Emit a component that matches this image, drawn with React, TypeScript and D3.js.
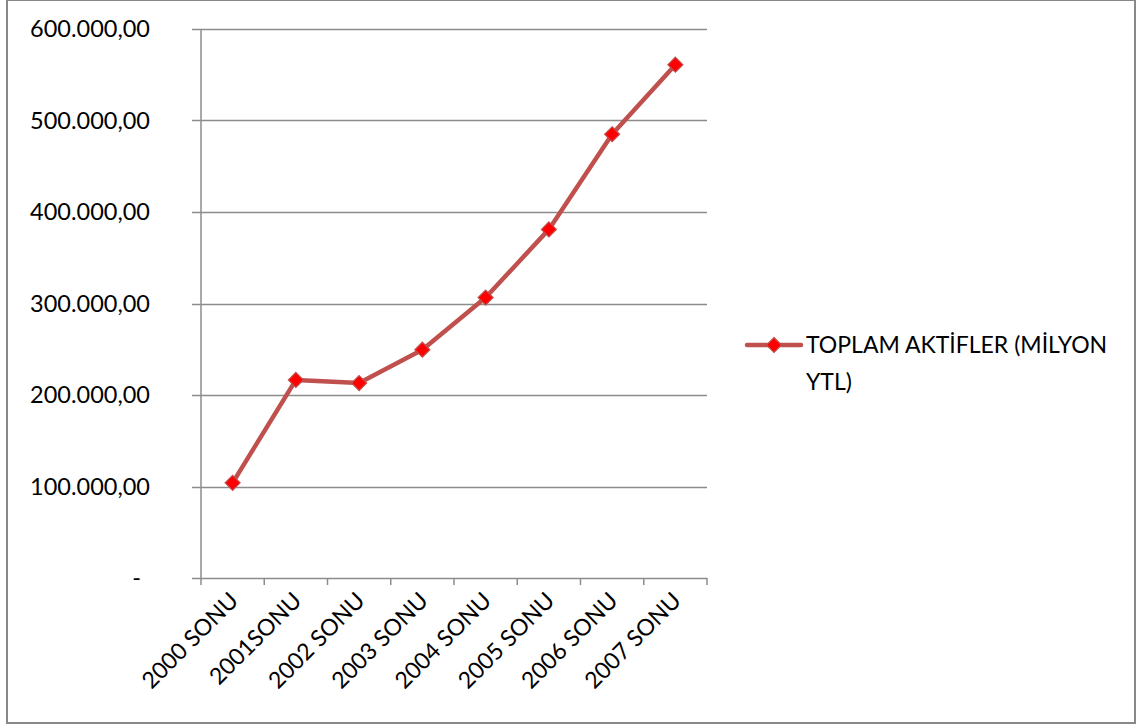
import React from "react";
import * as d3 from "d3";

const categories = [
  "2000 SONU",
  "2001SONU",
  "2002 SONU",
  "2003 SONU",
  "2004 SONU",
  "2005 SONU",
  "2006 SONU",
  "2007 SONU",
];
const totalAssets = [104000, 216500, 213000, 249500, 306500, 381000, 485000, 561000];
const yTicks = [0, 100000, 200000, 300000, 400000, 500000, 600000];
const seriesName = ["TOPLAM AKTİFLER (MİLYON", "YTL)"];

const W = 1137;
const H = 727;
const plot = { left: 201, right: 707, top: 29, bottom: 578 };
const FONT = "Lato, 'Open Sans', sans-serif";
const LINE = "#C0504D";
const GRID = "#8c8c8c";

const fmt = (v: number) => {
  if (v === 0) return "-";
  const s = d3.format(",.2f")(v);
  return s.replace(/,/g, "#").replace(/\./g, ",").replace(/#/g, ".");
};

export default function App() {
  const x = d3
    .scaleBand<string>()
    .domain(categories)
    .range([plot.left, plot.right])
    .paddingInner(0)
    .paddingOuter(0);
  const y = d3.scaleLinear().domain([0, 600000]).range([plot.bottom, plot.top]);
  const cx = (c: string) => (x(c) ?? 0) + x.bandwidth() / 2;

  const line = d3
    .line<number>()
    .x((_, i) => cx(categories[i]))
    .y((d) => y(d));

  const diamond = (px: number, py: number, r: number) =>
    `M${px},${py - r}L${px + r},${py}L${px},${py + r}L${px - r},${py}Z`;

  const boundaries = categories.map((c) => x(c) ?? 0).concat([plot.right]);

  return (
    <svg
      width={W}
      height={H}
      style={{ position: "absolute", left: 0, top: 0, background: "#fff" }}
      fontFamily={FONT}
    >
      <rect x={7} y={0} width={1128} height={723} fill="#fff" stroke="#888" strokeWidth={2} />

      {/* horizontal gridlines with left tick stubs */}
      {yTicks.map((t) => (
        <g key={t}>
          <line
            x1={plot.left - 9}
            x2={plot.right}
            y1={Math.round(y(t)) + 0.5}
            y2={Math.round(y(t)) + 0.5}
            stroke={GRID}
            strokeWidth={1.5}
          />
          <text
            x={t === 0 ? 141 : 150}
            y={y(t)}
            dy="0.36em"
            textAnchor="end"
            fontSize={23.5}
            fill="#000"
          >
            {fmt(t)}
          </text>
        </g>
      ))}

      {/* value axis */}
      <line x1={plot.left} x2={plot.left} y1={plot.top} y2={plot.bottom + 1} stroke={GRID} strokeWidth={1.5} />

      {/* category tick marks */}
      {boundaries.map((b, i) => (
        <line key={i} x1={b} x2={b} y1={plot.bottom} y2={plot.bottom + 7} stroke={GRID} strokeWidth={1.5} />
      ))}

      {/* category labels */}
      {categories.map((c) => (
        <text
          key={c}
          transform={`translate(${cx(c) + 7},${plot.bottom + 24}) rotate(-45)`}
          textAnchor="end"
          fontSize={23}
          fill="#000"
        >
          {c}
        </text>
      ))}

      {/* series */}
      <path d={line(totalAssets) ?? ""} fill="none" stroke={LINE} strokeWidth={4.5} strokeLinejoin="round" />
      {totalAssets.map((v, i) => (
        <path
          key={i}
          d={diamond(cx(categories[i]), y(v), 7.5)}
          fill="#FF0000"
          stroke={LINE}
          strokeWidth={1.2}
        />
      ))}

      {/* legend */}
      <line x1={747} x2={801} y1={345} y2={345} stroke={LINE} strokeWidth={4.5} strokeLinecap="round" />
      <path d={diamond(774, 345, 7.5)} fill="#FF0000" stroke={LINE} strokeWidth={1.2} />
      {seriesName.map((s, i) => (
        <text key={i} x={806} y={353 + i * 37} fontSize={23} fill="#000">
          {s}
        </text>
      ))}
    </svg>
  );
}
